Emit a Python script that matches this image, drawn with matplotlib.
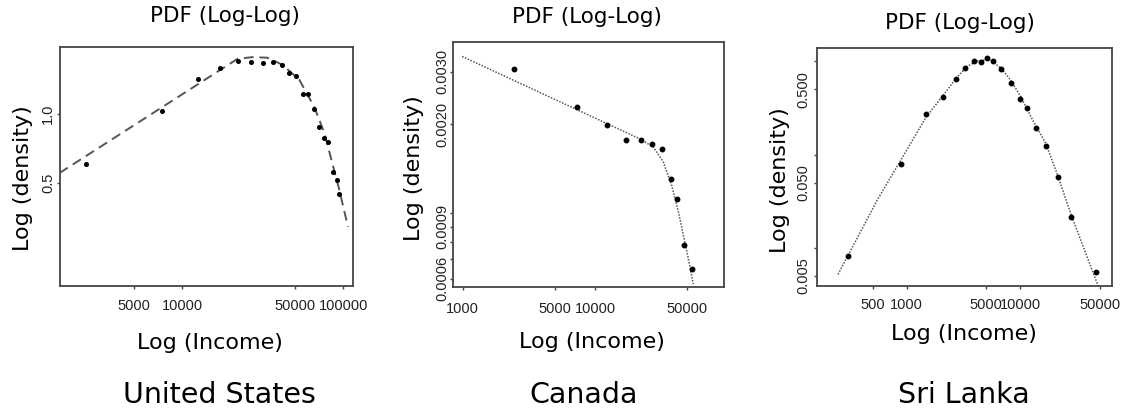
import matplotlib
matplotlib.use("Agg")
import matplotlib.pyplot as plt
from matplotlib.ticker import NullLocator, FixedLocator, FixedFormatter

W, H = 1124, 413

# United States
us_inc = [2500, 7410, 12400, 17200, 22000, 26800, 31800, 36700, 41800, 46200,
          51100, 56400, 60700, 66100, 71000, 76300, 80700, 86700, 91800, 94500]
us_dens = [0.605, 1.03, 1.42, 1.59, 1.70, 1.69, 1.67, 1.69, 1.64, 1.51,
           1.47, 1.22, 1.22, 1.05, 0.877, 0.786, 0.755, 0.558, 0.515, 0.448]
us_fit_inc = [1720, 22000, 27200, 33700, 41800, 53300, 66100, 76300, 85400, 94500, 107000]
us_fit_dens = [0.552, 1.74, 1.77, 1.76, 1.64, 1.41, 1.07, 0.826, 0.611, 0.466, 0.321]

# Canada
ca_inc = [2440, 7350, 12260, 17150, 22100, 27100, 32100, 37300, 41900, 47100, 54300]
ca_dens = [0.00307, 0.00229, 0.00198, 0.00176, 0.00177, 0.00171, 0.00165,
           0.00130, 0.00112, 0.000780, 0.000648]
ca_fit_inc = [990, 21900, 27600, 32800, 38000, 42700, 49400, 55300]
ca_fit_dens = [0.00338, 0.00178, 0.00167, 0.00149, 0.00124, 0.00101, 0.000745, 0.000576]

# Sri Lanka
sl_inc = [302, 896, 1489, 2090, 2720, 3280, 3914, 4515, 5130, 5757,
          6810, 8350, 9960, 11400, 13700, 16800, 21400, 27800, 46200]
sl_dens = [0.00826, 0.0792, 0.2745, 0.4145, 0.651, 0.848, 1.0, 0.975, 1.077, 1.015,
           0.821, 0.590, 0.395, 0.316, 0.193, 0.123, 0.0571, 0.0214, 0.00548]
sl_fit_inc = [248, 551, 1489, 2090, 2720, 3400, 4190, 5310, 6810, 8300,
              10100, 13000, 16800, 21400, 27800, 48500]
sl_fit_dens = [0.00521, 0.0327, 0.255, 0.43, 0.658, 0.88, 1.008, 1.05, 0.842, 0.62,
               0.418, 0.23, 0.132, 0.06, 0.0235, 0.00394]

countries = ["United States", "Canada", "Sri Lanka"]

TICK_FONT = ["Liberation Sans Narrow", "Liberation Sans", "DejaVu Sans"]
INK = "#222222"


def rect(x0, y0, x1, y1):
    return [x0 / W, 1 - y1 / H, (x1 - x0) / W, (y1 - y0) / H]


def fx(x):
    return x / W


def fy(y):
    return 1 - y / H


def setup(ax, xlim, ylim, xt, xl, yt, yl, xpad, ypad):
    ax.set_xscale("log")
    ax.set_yscale("log")
    ax.set_xlim(*xlim)
    ax.set_ylim(*ylim)
    ax.xaxis.set_major_locator(FixedLocator(xt))
    ax.xaxis.set_major_formatter(FixedFormatter(xl))
    ax.yaxis.set_major_locator(FixedLocator(yt))
    ax.yaxis.set_major_formatter(FixedFormatter(yl))
    ax.xaxis.set_minor_locator(NullLocator())
    ax.yaxis.set_minor_locator(NullLocator())
    for s in ax.spines.values():
        s.set_color("#444444")
        s.set_linewidth(1.3)
    ax.tick_params(axis="both", direction="out", length=2.5, width=1, color="#444444")
    ax.tick_params(axis="x", pad=xpad)
    ax.tick_params(axis="y", pad=ypad)
    for t in ax.get_xticklabels():
        t.set_family(TICK_FONT)
        t.set_fontsize(10.5)
        t.set_color(INK)
    for t in ax.get_yticklabels():
        t.set_family(TICK_FONT)
        t.set_fontsize(10.5)
        t.set_color(INK)
        t.set_rotation(90)
        t.set_va("center")


fig = plt.figure(figsize=(W / 100, H / 100), dpi=100)

# United States
ax1 = fig.add_axes(rect(60, 47, 353, 286))
ax1.plot(us_fit_inc, us_fit_dens, ls=(0, (5, 3)), color="#555555", lw=1.4)
ax1.plot(us_inc, us_dens, "o", color="black", ms=2.6)
setup(ax1, (1730, 115000), (0.177, 1.96),
      [5000, 10000, 50000, 100000], ["5000", "10000", "50000", "100000"],
      [0.5, 1.0], ["0.5", "1.0"], 7, 1)

# Canada
ax2 = fig.add_axes(rect(452.7, 41.7, 724, 287.3))
ax2.plot(ca_fit_inc, ca_fit_dens, ls=(0, (1, 1)), color="#555555", lw=1.1)
ax2.plot(ca_inc, ca_dens, "o", color="black", ms=3.2)
setup(ax2, (840, 94400), (0.000562, 0.00379),
      [1000, 5000, 10000, 50000], ["1000", "5000", "10000", "50000"],
      [0.003, 0.002, 0.001, 0.0009, 0.0008, 0.0007, 0.0006],
      ["0.0030", "0.0020", "", "0.0009", "", "", "0.0006"], 8, 0)

# Sri Lanka
ax3 = fig.add_axes(rect(816.7, 47.7, 1111.7, 285.7))
ax3.plot(sl_fit_inc, sl_fit_dens, ls=(0, (1, 1)), color="#555555", lw=1.1)
ax3.plot(sl_inc, sl_dens, "o", color="black", ms=3.2)
setup(ax3, (161, 64000), (0.00394, 1.40),
      [500, 1000, 5000, 10000, 50000], ["500", "1000", "5000", "10000", "50000"],
      [1.0, 0.5, 0.1, 0.05, 0.01, 0.005],
      ["", "0.500", "", "0.050", "", "0.005"], 6, 2)

# titles, axis labels, country names
title_pos = [(225, 16), (587, 17), (960, 23)]
ylab_pos = [(23, 178), (414, 168), (780, 180)]
xlab_pos = [(210, 343), (592, 342), (964, 334)]
name_pos = [(219, 395), (584, 395), (964, 395)]

for i in range(3):
    fig.text(fx(title_pos[i][0]), fy(title_pos[i][1]), "PDF (Log-Log)",
             ha="center", va="center", fontsize=15.5, color="black")
    fig.text(fx(ylab_pos[i][0]), fy(ylab_pos[i][1]), "Log (density)",
             ha="center", va="center", rotation=90, fontsize=16, color="black")
    fig.text(fx(xlab_pos[i][0]), fy(xlab_pos[i][1]), "Log (Income)",
             ha="center", va="center", fontsize=16, color="black")
    fig.text(fx(name_pos[i][0]), fy(name_pos[i][1]), countries[i],
             ha="center", va="center", fontsize=20.5, color="black")

fig.savefig("out.png", dpi=100)
